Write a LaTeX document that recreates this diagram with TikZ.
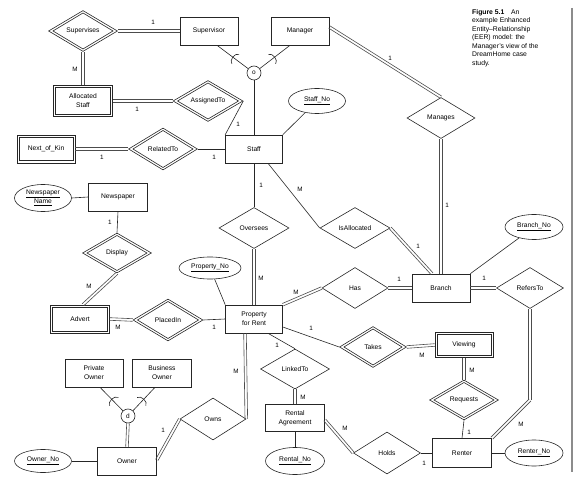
\documentclass[tikz,border=0pt]{standalone}
\usepackage{fontspec}
\setmainfont{Liberation Sans}
\usetikzlibrary{shapes.geometric,calc}
\tikzset{
  x=1pt,y=-1pt,
  base/.style={draw=black!85,line width=0.6pt,align=center,inner sep=0pt,
    font=\fontsize{6.7}{9}\selectfont},
  ent/.style={base,rectangle,minimum width=58pt,minimum height=28pt},
  rel/.style={base,diamond,aspect=1.7,minimum width=69pt,minimum height=41pt},
  attr/.style={base,ellipse,minimum width=57pt,minimum height=25pt},
  disc/.style={base,circle,minimum size=14pt,font=\fontsize{6.5}{6.5}\selectfont},
  ln/.style={draw=black!85,line width=0.6pt},
  dln/.style={draw=black!70,line width=0.6pt},
  lbl/.style={font=\fontsize{6.3}{6.3}\selectfont,inner sep=0pt},
  captext/.style={align=left,inner sep=0pt,font=\fontsize{6.8}{8.5}\selectfont,anchor=north west}
}
% double connector drawn as two parallel lines
\newcommand\dline[2]{%
  \draw[dln] ($(#1)!1.3pt!90:(#2)$) -- ($(#2)!1.3pt!-90:(#1)$);
  \draw[dln] ($(#1)!1.3pt!-90:(#2)$) -- ($(#2)!1.3pt!90:(#1)$);
}
% inner border of a weak entity
\newcommand\innerbox[1]{%
  \draw[ln] ($(#1.south west)+(2.5,-2.5)$) rectangle ($(#1.north east)+(-2.5,2.5)$);
}
% inner border of an identifying relationship
\newcommand\innerdia[1]{%
  \draw[ln] ($(#1.north)+(0,2.8)$) -- ($(#1.east)+(-4.8,0)$) -- ($(#1.south)+(0,-2.8)$) -- ($(#1.west)+(4.8,0)$) -- cycle;
}
% subset symbol on a specialisation line
\newcommand\subarc[2]{%
  \coordinate (sbm) at ($(#1)!0.5!(#2)$);
  \draw[ln] ($(sbm)!6pt!90:(#2)$) to[bend right=75] ($(sbm)!6pt!-90:(#2)$);
}
\begin{document}
\begin{tikzpicture}
\useasboundingbox (0,0) rectangle (575,502);
\draw[draw=black!45,line width=1.5pt] (572,8) -- (572,472);

% caption
\node[captext] (caption) at (472,9) {\textbf{Figure 5.1}\quad An\\example Enhanced\\Entity--Relationship\\(EER) model: the\\Manager's view of the\\DreamHome case\\study.};

% nodes
\node[rel] (supvs) at (83,31) {Supervises};
\node[ent] (supr) at (209,31) {Supervisor};
\node[ent] (mgr) at (300,31) {Manager};
\node[disc] (ov1) at (254,73) {o};
\node[ent,minimum height=31pt,minimum width=59pt] (alloc) at (83,101) {Allocated\\Staff};
\node[rel,minimum width=70pt] (assign) at (208,101) {AssignedTo};
\node[attr] (staffno) at (317,101) {\underline{Staff\_No}};
\node[ent,minimum width=57pt] (staff) at (254,149) {Staff};
\node[ent] (nok) at (46,149) {Next\_of\_Kin};
\node[rel,minimum height=42pt] (relto) at (163,149) {RelatedTo};
\node[rel,minimum width=68pt] (manages) at (441,118) {Manages};
\node[ent,minimum width=59pt] (news) at (118,197) {Newspaper};
\node[attr,minimum height=27pt] (newsname) at (43,198) {\underline{Newspaper}\\\underline{Name}};
\node[rel,minimum height=40pt] (display) at (117,253) {Display};
\node[rel,minimum width=70pt] (oversees) at (254,228) {Oversees};
\node[rel,minimum width=70pt] (isalloc) at (355,228) {IsAllocated};
\node[attr,minimum width=58pt] (branchno) at (534,227) {\underline{Branch\_No}};
\node[attr,minimum width=62pt,minimum height=22pt] (propno) at (210,268) {\underline{Property\_No}};
\node[rel,minimum width=66pt] (has) at (355,288) {Has};
\node[ent] (branch) at (441,288) {Branch};
\node[rel,minimum width=67pt] (refers) at (530,288) {RefersTo};
\node[ent,minimum width=59pt] (advert) at (80,319) {Advert};
\node[rel,minimum width=70pt,minimum height=42pt] (placed) at (168,320) {PlacedIn};
\node[ent,minimum width=57pt] (prop) at (254,319) {Property\\for Rent};
\node[rel,minimum width=67pt] (takes) at (373,347) {Takes};
\node[ent,minimum height=25pt] (viewing) at (464,345) {Viewing};
\node[ent] (privo) at (94,373) {Private\\Owner};
\node[ent,minimum width=59pt] (buso) at (162,373) {Business\\Owner};
\node[rel,minimum height=40pt] (linked) at (295,369) {LinkedTo};
\node[rel,minimum height=40pt] (requests) at (464,400) {Requests};
\node[disc] (ov2) at (128,416) {d};
\node[rel,minimum width=66pt,minimum height=42pt] (owns) at (213,419) {Owns};
\node[ent,minimum width=59pt,minimum height=27pt] (ra) at (295,418) {Rental\\Agreement};
\node[rel,minimum width=67pt,minimum height=42pt] (holds) at (387,453) {Holds};
\node[ent,minimum width=59pt,minimum height=29pt] (renter) at (462,453) {Renter};
\node[attr,minimum height=23pt] (ownerno) at (43,461) {\underline{Owner\_No}};
\node[ent,minimum width=59pt] (owner) at (127,461) {Owner};
\node[attr,minimum width=59pt,minimum height=27pt] (rentalno) at (295,461) {\underline{Rental\_No}};
\node[attr,minimum width=58pt,minimum height=26pt] (renterno) at (534,453) {\underline{Renter\_No}};

% weak entities and identifying relationships
\innerbox{alloc}
\innerbox{nok}
\innerbox{advert}
\innerbox{viewing}
\innerdia{supvs}
\innerdia{assign}
\innerdia{relto}
\innerdia{display}
\innerdia{placed}
\innerdia{takes}
\innerdia{requests}

% helper coordinates
\coordinate (supr-s) at ($(supr.south)+(8,0)$);
\coordinate (mgr-s) at ($(mgr.south)+(-10,0)$);
\coordinate (mgr-e) at ($(mgr.east)+(0,-4)$);
\coordinate (staff-s) at ($(staff.south)+(14,0)$);
\coordinate (branch-n) at ($(branch.north)+(-9,0)$);
\coordinate (advert-n) at ($(advert.north)+(3,0)$);
\coordinate (prop-e) at ($(prop.east)+(0,8)$);
\coordinate (prop-s) at ($(prop.south)+(14,0)$);
\coordinate (prop-sw) at ($(prop.south)+(-9,0)$);
\coordinate (ra-e) at ($(ra.east)+(0,2)$);
\coordinate (owner-e) at ($(owner.east)+(0,-1)$);
\coordinate (rbend) at (530,400);
\coordinate (privo-s) at ($(privo.south)+(6,0)$);
\coordinate (buso-s) at ($(buso.south)+(-7,0)$);

% connectors
\dline{supvs.east}{supr.west}
\dline{supvs.south}{alloc.north}
\dline{alloc.east}{assign.west}
\draw[ln] (assign.east) -- (staff.north west);
\draw[ln] (supr-s) -- (ov1);
\draw[ln] (mgr-s) -- (ov1);
\subarc{supr-s}{ov1}
\subarc{mgr-s}{ov1}
\draw[ln] (ov1) -- (staff.north);
\draw[ln] (staffno) -- (staff.north east);
\dline{mgr-e}{manages.north}
\dline{manages.south}{branch.north}
\draw[ln] (branchno) -- (branch.north east);
\dline{branch.east}{refers.west}
\dline{refers.south}{rbend}
\dline{rbend}{renter.north east}
\dline{nok.east}{relto.west}
\draw[ln] (relto.east) -- (staff.west);
\draw[ln] (staff.south) -- (oversees.north);
\dline{oversees.south}{prop.north}
\draw[ln] (staff-s) -- (isalloc.west);
\dline{isalloc.east}{branch-n}
\draw[ln] (newsname.east) -- (news.west);
\draw[ln] (news.south) -- (display.north);
\dline{display.south}{advert-n}
\dline{advert.east}{placed.west}
\draw[ln] (placed.east) -- (prop.west);
\draw[ln] (propno) -- (prop.north west);
\dline{prop.north east}{has.west}
\dline{has.east}{branch.west}
\draw[ln] (prop-e) -- (takes.west);
\dline{takes.east}{viewing.west}
\dline{viewing.south}{requests.north}
\draw[ln] (requests.south) -- (renter.north);
\draw[ln] (renter.east) -- (renterno.west);
\draw[ln] (prop-s) -- (linked.north);
\dline{linked.south}{ra.north}
\draw[ln] (ra.south) -- (rentalno.north);
\dline{ra-e}{holds.west}
\draw[ln] (holds.east) -- (renter.west);
\dline{prop-sw}{owns.east}
\dline{owner-e}{owns.west}
\dline{ov2.south}{owner.north}
\draw[ln] (privo-s) -- (ov2);
\draw[ln] (buso-s) -- (ov2);
\subarc{privo-s}{ov2}
\subarc{buso-s}{ov2}
\draw[ln] (ownerno.east) -- (owner.west);

% cardinality labels
\node[lbl] (c1) at (153,22) {1};
\node[lbl] (c2) at (75,69) {M};
\node[lbl] (c3) at (137,109) {1};
\node[lbl] (c4) at (238,124) {1};
\node[lbl] (c5) at (390,58) {1};
\node[lbl] (c6) at (447,205) {1};
\node[lbl] (c7) at (484,278) {1};
\node[lbl] (c8) at (521,424) {M};
\node[lbl] (c9) at (102,157) {1};
\node[lbl] (c10) at (214,157) {1};
\node[lbl] (c11) at (261,185) {1};
\node[lbl] (c12) at (261,278) {M};
\node[lbl] (c13) at (300,189) {M};
\node[lbl] (c14) at (418,246) {1};
\node[lbl] (c15) at (110,222) {1};
\node[lbl] (c16) at (89,286) {M};
\node[lbl] (c17) at (118,327) {M};
\node[lbl] (c18) at (214,327) {1};
\node[lbl] (c19) at (296,292) {M};
\node[lbl] (c20) at (399,279) {1};
\node[lbl] (c21) at (311,328) {1};
\node[lbl] (c22) at (422,355) {M};
\node[lbl] (c23) at (472,370) {M};
\node[lbl] (c24) at (469,432) {1};
\node[lbl] (c25) at (277,345) {1};
\node[lbl] (c26) at (303,397) {M};
\node[lbl] (c27) at (345,428) {M};
\node[lbl] (c28) at (424,463) {1};
\node[lbl] (c29) at (236,371) {M};
\node[lbl] (c30) at (163,430) {1};
\end{tikzpicture}
\end{document}
